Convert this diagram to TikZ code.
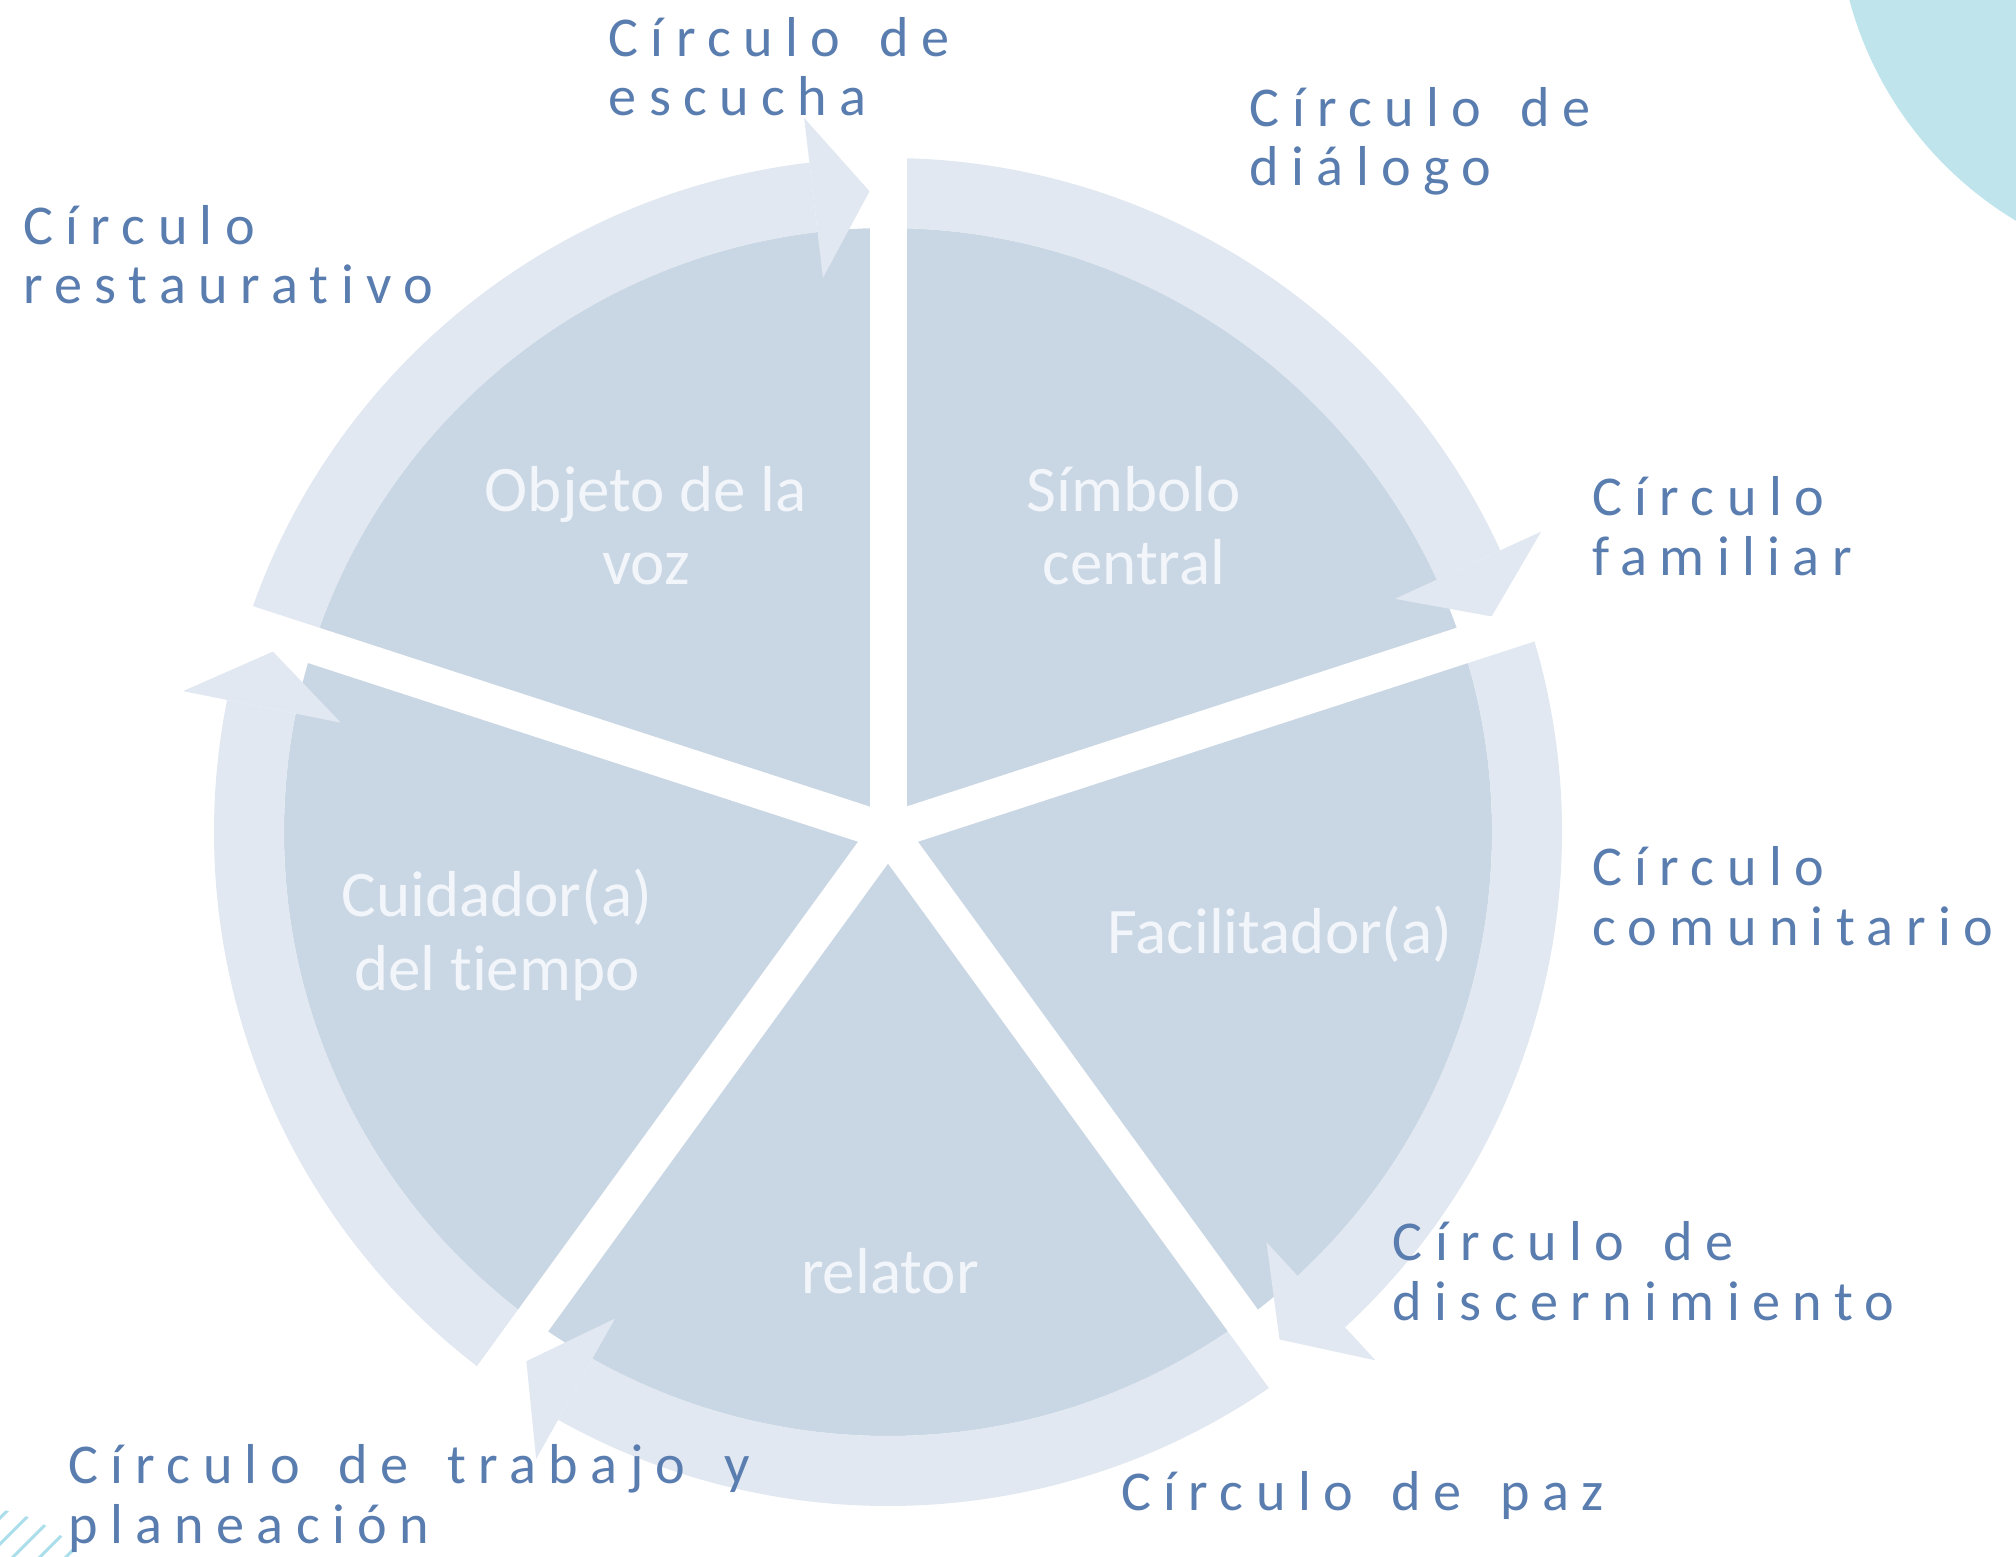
\documentclass[tikz,border=0pt]{standalone}
\usepackage{fontspec}
\setmainfont[Ligatures=NoCommon]{Carlito}
\newfontfamily\spacedfont[LetterSpace=22,WordSpace=1.55,Ligatures=NoCommon]{Carlito}
\usetikzlibrary{positioning}
\definecolor{piefill}{RGB}{201,214,228}
\definecolor{bandclr}{RGB}{225,232,241}
\definecolor{lblblue}{RGB}{90,125,176}
\definecolor{slicetext}{RGB}{242,245,249}
\definecolor{cornerteal}{RGB}{191,228,236}
\definecolor{hatchclr}{RGB}{170,222,234}

\begin{document}
\begin{tikzpicture}[
    ringlbl/.style={anchor=base west, inner sep=0pt, align=left, text=lblblue,
      font=\spacedfont\fontsize{16pt}{17pt}\selectfont},
    slicelbl/.style={anchor=base, inner sep=0pt, align=center, text=slicetext,
      font=\fontsize{18.5pt}{21pt}\selectfont},
    gapline/.style={white, line width=3.7mm},
  ]
  \useasboundingbox (-8.88,-7.24) rectangle (11.28,8.32);
  \clip (-8.88,-7.24) rectangle (11.28,8.32);

  % corner decorations
  \fill[cornerteal] (13.17,9.27) circle (3.68);
  \begin{scope}
    \clip (-9.08,-8.08) circle (1.32);
    \foreach \d in {2.02,1.76,1.50,1.23,0.97}
      \draw[hatchclr, line width=0.9pt] (-10,{-10+\d}) -- (-7,{-7+\d});
  \end{scope}

  % pie, arrow bands and gaps
  \coordinate (c) at (0,0);
  \fill[piefill] (c) circle (6.04);
  \foreach \s [evaluate=\s as \b using \s+6.7, evaluate=\s as \e using \s+72] in {90,18,-54,-126,162}{
    \fill[bandclr] (\b:6.04) arc[start angle=\b, end angle=\e, radius=6.04]
      -- (\e:6.74) arc[start angle=\e, end angle=\b, radius=6.74] -- cycle;
    \fill[bandclr] (\b:5.58) -- ({\s+1.65}:6.41) -- (\b:7.19) -- cycle;
  }
  \foreach \s in {90,18,-54,-126,162}
    \draw[gapline] (c) -- (\s:6.9);

  % slice labels (base = last line)
  \node[slicelbl] (voz) at (-2.42,2.47) {Objeto de la\\voz};
  \node[slicelbl] (simbolo) at (2.46,2.47) {Símbolo\\central};
  \node[slicelbl] (facil) at (3.92,-1.21) {Facilitador(a)};
  \node[slicelbl] (cuidador) at (-3.91,-1.585) {Cuidador(a)\\del tiempo};
  \node[slicelbl] (relator) at (0.02,-4.61) {relator};

  % circle types round the ring
  \node[ringlbl] (escucha) at (-2.80,7.16) {Círculo de\\escucha};
  \node[ringlbl] (dialogo) at (3.61,6.46) {Círculo de\\diálogo};
  \node[ringlbl] (restaur) at (-8.655,5.28) {Círculo\\restaurativo};
  \node[ringlbl] (familiar) at (7.035,2.57) {Círculo\\familiar};
  \node[ringlbl] (comunit) at (7.035,-1.135) {Círculo\\comunitario};
  \node[ringlbl] (discern) at (5.04,-4.885) {Círculo de\\discernimiento};
  \node[ringlbl] (paz) at (2.325,-6.785) {Círculo de paz};
  \node[ringlbl] (trabajo) at (-8.205,-7.11) {Círculo de trabajo y\\planeación};
\end{tikzpicture}
\end{document}
